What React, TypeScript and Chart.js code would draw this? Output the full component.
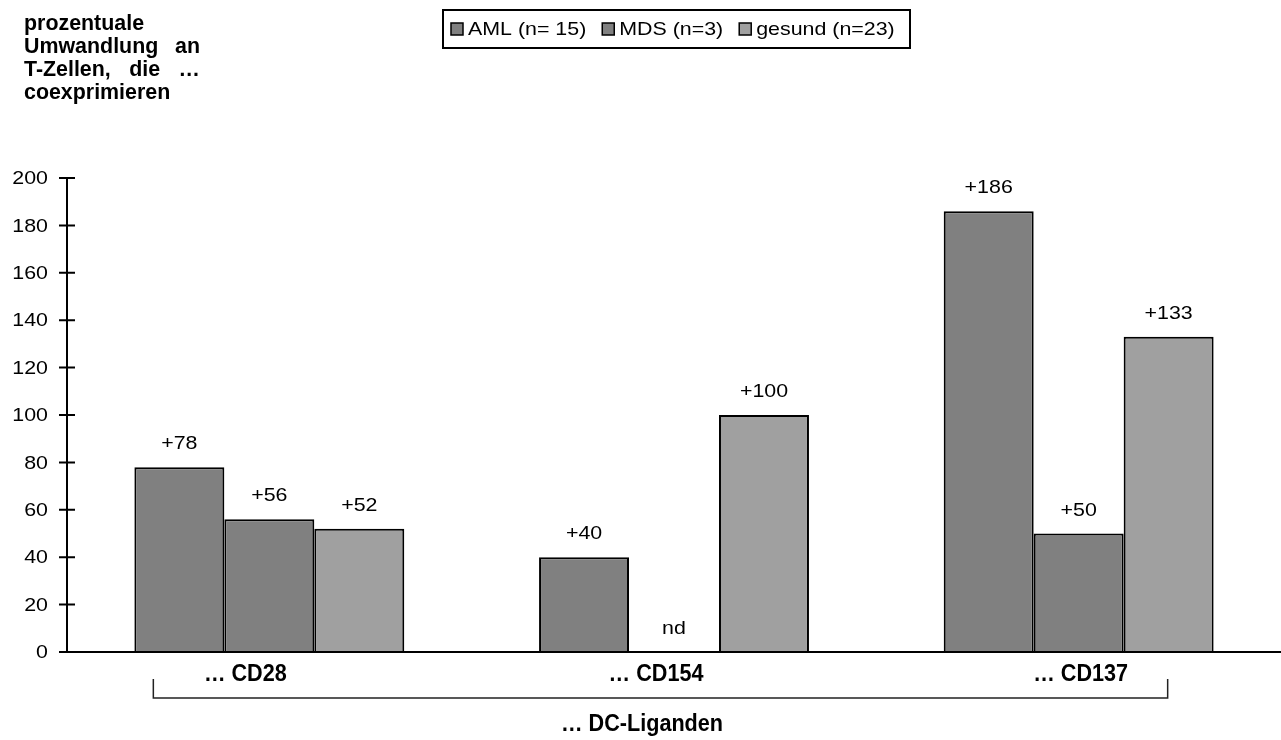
import React, { useEffect, useRef } from "react";
import { Chart, registerables } from "chart.js";

Chart.register(...registerables);

const categories = ["… CD28", "… CD154", "… CD137"];
const seriesNames = ["AML (n= 15)", "MDS (n=3)", "gesund (n=23)"];
const amlValues: (number | null)[] = [78, 40, 186];
const mdsValues: (number | null)[] = [56, null, 50];
const gesundValues: (number | null)[] = [52, 100, 133];
const seriesColors = ["#808080", "#808080", "#a0a0a0"];
const yTicks = [0, 20, 40, 60, 80, 100, 120, 140, 160, 180, 200];
const titleLines = [["prozentuale"], ["Umwandlung", "an"], ["T-Zellen,", "die", "…"], ["coexprimieren"]];
const groupLabel = "… DC-Liganden";

const SANS = '"Liberation Sans", Arial, sans-serif';
const SX = 1.15;
const FS = 18.6;
const CAT_SX = 0.9;
const catOffsets = [-24, -18, 2];

function drawText(
  ctx: CanvasRenderingContext2D,
  text: string,
  x: number,
  y: number,
  font: string,
  align: CanvasTextAlign,
  sx: number,
  baseline: CanvasTextBaseline = "middle"
) {
  ctx.save();
  ctx.font = font;
  ctx.textAlign = align;
  ctx.textBaseline = baseline;
  ctx.fillStyle = "#000";
  ctx.translate(x, y);
  ctx.scale(sx, 1);
  ctx.fillText(text, 0, 0);
  ctx.restore();
}

function textW(ctx: CanvasRenderingContext2D, text: string, font: string, sx: number) {
  ctx.save();
  ctx.font = font;
  const w = ctx.measureText(text).width * sx;
  ctx.restore();
  return w;
}

const overlay = {
  id: "overlay",
  afterDatasetsDraw(chart: any) {
    const ctx: CanvasRenderingContext2D = chart.ctx;
    const xs = chart.scales.x;
    const ys = chart.scales.y;
    const area = chart.chartArea;
    const y0 = ys.getPixelForValue(0);

    // axes
    ctx.save();
    ctx.strokeStyle = "#000";
    ctx.lineWidth = 2;
    ctx.beginPath();
    ctx.moveTo(area.left, ys.getPixelForValue(200));
    ctx.lineTo(area.left, y0);
    ctx.moveTo(area.left, y0);
    ctx.lineTo(chart.width, y0);
    yTicks.forEach((t) => {
      const py = ys.getPixelForValue(t);
      ctx.moveTo(area.left - 8, py);
      ctx.lineTo(area.left + 8, py);
    });
    ctx.stroke();
    ctx.restore();

    const regFont = `${FS}px ${SANS}`;
    const catFont = `bold 24px ${SANS}`;
    const titleFont = `bold 21.4px ${SANS}`;
    yTicks.forEach((t) => {
      drawText(ctx, String(t), area.left - 19, ys.getPixelForValue(t) + 1, regFont, "right", SX);
    });

    // value labels
    chart.data.datasets.forEach((ds: any, di: number) => {
      const meta = chart.getDatasetMeta(di);
      meta.data.forEach((bar: any, i: number) => {
        const v = ds.data[i];
        if (v === null || v === undefined) {
          drawText(ctx, "nd", bar.x, y0 - 23, regFont, "center", SX);
        } else {
          drawText(ctx, "+" + v, bar.x, ys.getPixelForValue(v) - 23, regFont, "center", SX);
        }
      });
    });

    // category labels
    categories.forEach((c, i) => {
      drawText(ctx, c, xs.getPixelForValue(i) + catOffsets[i], y0 + 29, catFont, "center", CAT_SX, "alphabetic");
    });

    // bracket
    const bl = xs.getPixelForValue(0) - 116;
    const br = xs.getPixelForValue(2) + 89;
    ctx.save();
    ctx.strokeStyle = "#222";
    ctx.lineWidth = 1.5;
    ctx.beginPath();
    ctx.moveTo(bl, y0 + 27);
    ctx.lineTo(bl, y0 + 46);
    ctx.lineTo(br, y0 + 46);
    ctx.lineTo(br, y0 + 27);
    ctx.stroke();
    ctx.restore();
    drawText(ctx, groupLabel, xs.getPixelForValue(1) - 32, y0 + 79, catFont, "center", CAT_SX, "alphabetic");

    // title (justified)
    const tLeft = 24;
    const tWidth = 176;
    titleLines.forEach((words, li) => {
      const y = 30 + li * 23;
      if (words.length === 1) {
        drawText(ctx, words[0], tLeft, y, titleFont, "left", 1, "alphabetic");
      } else {
        const widths = words.map((w) => textW(ctx, w, titleFont, 1));
        const total = widths.reduce((a, b) => a + b, 0);
        const gap = (tWidth - total) / (words.length - 1);
        let x = tLeft;
        words.forEach((w, wi) => {
          drawText(ctx, w, x, y, titleFont, "left", 1, "alphabetic");
          x += widths[wi] + gap;
        });
      }
    });

    // legend
    const lx0 = 443;
    const ly0 = 10;
    const lw = 467;
    const lh = 38;
    ctx.save();
    ctx.strokeStyle = "#000";
    ctx.lineWidth = 2;
    ctx.strokeRect(lx0, ly0, lw, lh);
    ctx.restore();
    let lx = 451;
    const lyc = ly0 + lh / 2;
    seriesNames.forEach((name, i) => {
      ctx.save();
      ctx.fillStyle = seriesColors[i];
      ctx.fillRect(lx, lyc - 6, 12, 12);
      ctx.strokeStyle = "#000";
      ctx.lineWidth = 1.5;
      ctx.strokeRect(lx, lyc - 6, 12, 12);
      ctx.restore();
      drawText(ctx, name, lx + 17, lyc + 1, regFont, "left", SX);
      lx += 17 + textW(ctx, name, regFont, SX) + 16;
    });
  },
};

export default function App() {
  const ref = useRef<HTMLCanvasElement | null>(null);
  useEffect(() => {
    if (!ref.current) return;
    const datasetsRaw = [amlValues, mdsValues, gesundValues];
    const chart = new Chart(ref.current, {
      type: "bar",
      data: {
        labels: categories,
        datasets: datasetsRaw.map((d, i) => ({
          label: seriesNames[i],
          data: d,
          backgroundColor: seriesColors[i],
          borderColor: "#000",
          borderWidth: 2,
          borderSkipped: "bottom",
          categoryPercentage: 0.667,
          barPercentage: 1,
        })),
      },
      options: {
        animation: false,
        responsive: true,
        maintainAspectRatio: false,
        layout: { padding: { left: 67, right: 0, top: 178, bottom: 88 } },
        plugins: { legend: { display: false }, tooltip: { enabled: false }, title: { display: false } },
        scales: {
          x: { display: false },
          y: { display: false, min: 0, max: 200 },
        },
      },
      plugins: [overlay],
    });
    return () => chart.destroy();
  }, []);
  return (
    <div style={{ position: "absolute", left: 0, top: 0, width: 1281, height: 740, background: "#fff" }}>
      <canvas ref={ref} />
    </div>
  );
}
